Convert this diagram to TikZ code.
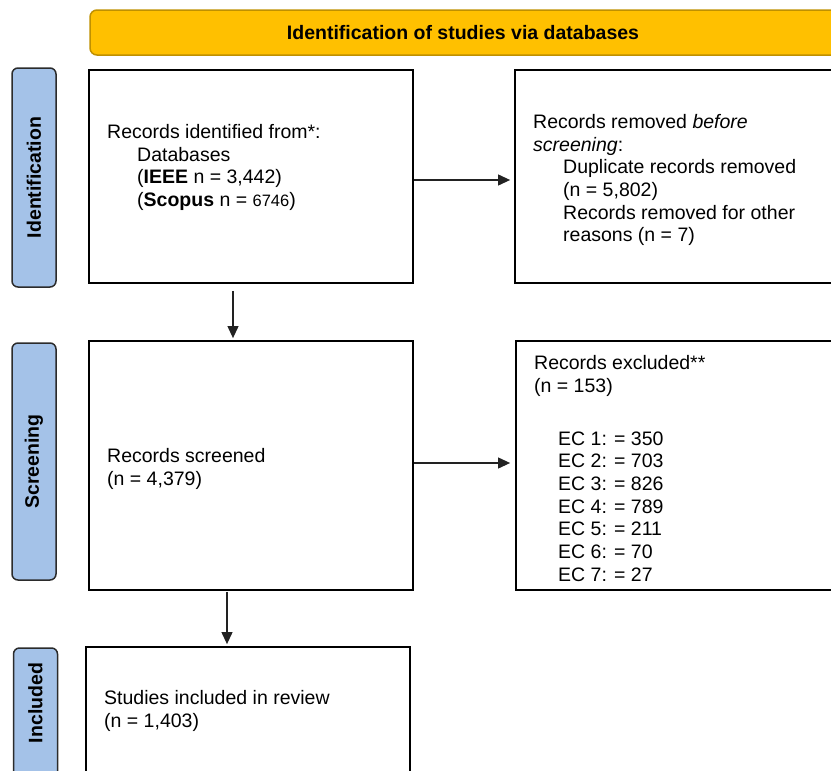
\documentclass[tikz,border=0pt]{standalone}
\usepackage{fontspec}
\setmainfont{Liberation Sans}
\usetikzlibrary{arrows.meta}
\definecolor{hdrfill}{HTML}{FFC000}
\definecolor{hdrdraw}{HTML}{BF9000}
\definecolor{sidefill}{HTML}{A4C2E8}
\definecolor{sidedraw}{HTML}{2B2B2B}
\definecolor{linegray}{HTML}{222222}
\begin{document}
\begin{tikzpicture}[x=1pt,y=-1pt,
  font=\fontsize{19.5}{22.7}\selectfont,
  pbox/.style={draw=black, line width=1.8pt, inner sep=0pt, minimum width=#1},
  sidebox/.style={draw=sidedraw, fill=sidefill, line width=1.5pt, rounded corners=6pt, inner sep=0pt, minimum width=44pt},
  sidetext/.style={rotate=90, font=\fontsize{19.5}{22.7}\selectfont\bfseries, inner sep=0pt},
  btext/.style={anchor=north west, align=left, inner sep=0pt},
  arr/.style={draw=linegray, line width=1.1pt, -{Triangle[length=12pt,width=11pt]}}]
\useasboundingbox (0,0) rectangle (831,771);
\clip (0,0) rectangle (831,771);
% header
\node[draw=hdrdraw, fill=hdrfill, line width=1.5pt, rounded corners=7pt, minimum width=780pt, minimum height=45pt, inner sep=0pt] (hdr) at (480,32.5) {};
\node[font=\fontsize{19.5}{22.7}\selectfont\bfseries, inner sep=0pt] (hdrtext) at (463,32.5) {Identification of studies via databases};
% side labels
\node[sidebox, minimum height=219pt] (sideid) at (34,177.5) {};
\node[sidetext] (sideidt) at (sideid.center) {Identification};
\node[sidebox, minimum height=237pt] (sidescr) at (34,461.5) {};
\node[sidetext] (sidescrt) at (sidescr.center) {Screening};
\node[sidebox, minimum height=150pt] (sideinc) at (35.5,723) {};
\node[sidetext] (sideinct) at (35.5,703) {Included};
% boxes
\node[pbox=324pt, minimum height=213pt] (box1) at (251,176.5) {};
\node[pbox=345pt, minimum height=213pt] (box2) at (687.5,176.5) {};
\node[pbox=324pt, minimum height=249pt] (box3) at (251,465.5) {};
\node[pbox=344pt, minimum height=249pt] (box4) at (688,465.5) {};
\node[pbox=324pt, minimum height=153pt] (box5) at (248,723.5) {};
% texts
\node[btext] (t1) at (107,124) {Records identified from*:\\
\hspace*{30pt}Databases\\
\hspace*{30pt}(\textbf{IEEE} n = 3,442)\\
\hspace*{30pt}(\textbf{Scopus} n = {\fontsize{16.5}{22.7}\selectfont 6746})};
\node[btext] (t2) at (533,114) {Records removed \textit{before}\\
\textit{screening}:\\
\hspace*{30pt}Duplicate records removed\\
\hspace*{30pt}(n = 5,802)\\
\hspace*{30pt}Records removed for other\\
\hspace*{30pt}reasons (n = 7)};
\node[btext] (t3) at (107,448) {Records screened\\(n = 4,379)};
\node[btext] (t4) at (534,355) {Records excluded**\\
(n = 153)\\[30.3pt]
\hspace*{24pt}EC 1: = 350\\
\hspace*{24pt}EC 2: = 703\\
\hspace*{24pt}EC 3: = 826\\
\hspace*{24pt}EC 4: = 789\\
\hspace*{24pt}EC 5: = 211\\
\hspace*{24pt}EC 6: = 70\\
\hspace*{24pt}EC 7: = 27};
\node[btext] (t5) at (104,690) {Studies included in review\\(n = 1,403)};
% arrows
\draw[arr, shorten >=4pt] ([yshift=-3.5pt]box1.east) -- ([yshift=-3.5pt]box2.west);
\draw[arr, shorten >=5pt] ([yshift=2.5pt]box3.east) -- ([yshift=2.5pt]box4.west);
\draw[arr, shorten <=7pt, shorten >=2pt] ([xshift=-18pt]box1.south) -- ([xshift=-18pt]box3.north);
\draw[arr, shorten <=1pt, shorten >=2pt] ([xshift=-24pt]box3.south) -- ([xshift=-24pt]box3.south |- box5.north);
\end{tikzpicture}
\end{document}
